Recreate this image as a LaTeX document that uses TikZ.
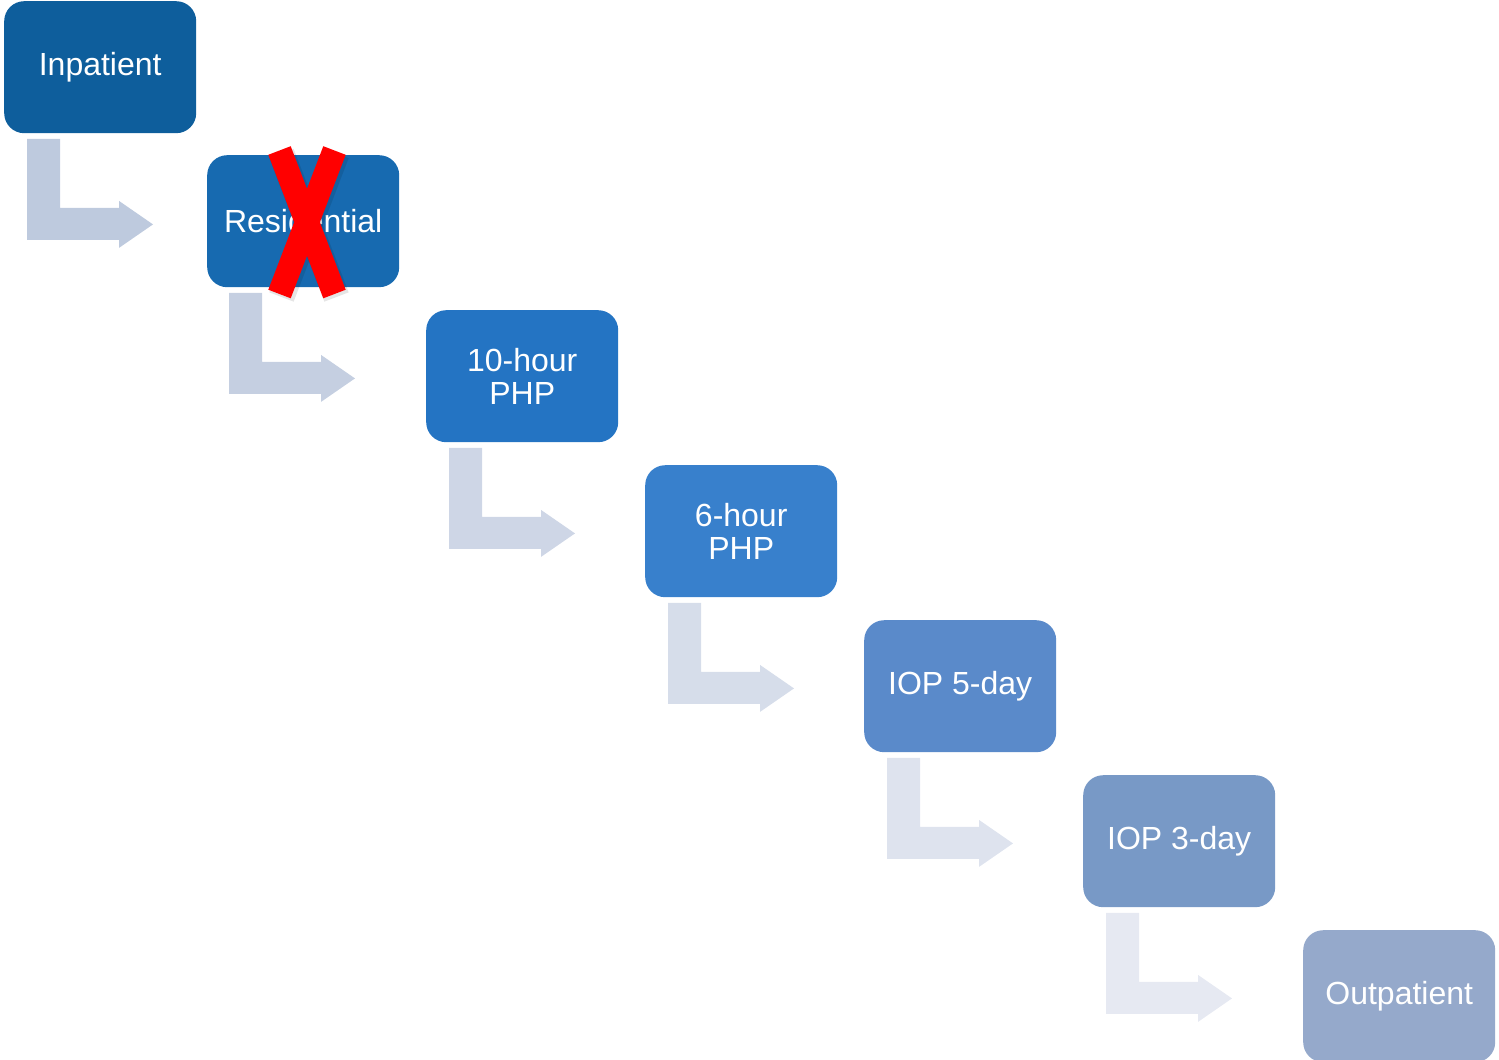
\documentclass[tikz,border=0pt]{standalone}
\usepackage{fontspec}
\setmainfont{Liberation Sans}
\usetikzlibrary{calc}

% stage fills, dark to light
\definecolor{stA}{HTML}{0E5E9C}
\definecolor{stB}{HTML}{176AB0}
\definecolor{stC}{HTML}{2474C3}
\definecolor{stD}{HTML}{3880CC}
\definecolor{stE}{HTML}{5A8ACA}
\definecolor{stF}{HTML}{7899C6}
\definecolor{stG}{HTML}{95A9CB}
% bent arrow fills
\definecolor{arA}{HTML}{BECADE}
\definecolor{arB}{HTML}{C5CFE1}
\definecolor{arC}{HTML}{CED6E6}
\definecolor{arD}{HTML}{D6DDEA}
\definecolor{arE}{HTML}{DEE3EE}
\definecolor{arF}{HTML}{E6E9F2}
\definecolor{crossred}{HTML}{FF0000}

\begin{document}
\begin{tikzpicture}[x=1pt,y=-1pt,
  stage/.style={rectangle, rounded corners=20pt, minimum width=192pt,
    minimum height=132pt, inner sep=0pt, anchor=north west, text=white,
    align=center, font=\fontsize{32}{33}\selectfont},
  bent/.pic={\fill[pic actions] (0,0) -- (33,0) -- (33,69) -- (92,69) -- (92,62)
    -- (126,85.5) -- (92,109) -- (92,101) -- (0,101) -- cycle;},
  crossbar/.style={line width=24pt, crossred}]

\useasboundingbox (0,0) rectangle (1499,1060);

% care levels
\node[stage, fill=stA] (n1) at (4,1)     {Inpatient};
\node[stage, fill=stB] (n2) at (207,155) {Residential};
\node[stage, fill=stC] (n3) at (426,310) {10-hour\\PHP};
\node[stage, fill=stD] (n4) at (645,465) {6-hour\\PHP};
\node[stage, fill=stE] (n5) at (864,620) {IOP 5-day};
\node[stage, fill=stF] (n6) at (1083,775) {IOP 3-day};
\node[stage, fill=stG] (n7) at (1303,930) {Outpatient};

% step-down arrows hanging under each level
\pic[fill=arA] at ($(n1.south west)+(23,5.5)$) {bent};
\pic[fill=arB] at ($(n2.south west)+(22,5.5)$) {bent};
\pic[fill=arC] at ($(n3.south west)+(23,5.5)$) {bent};
\pic[fill=arD] at ($(n4.south west)+(23,5.5)$) {bent};
\pic[fill=arE] at ($(n5.south west)+(23,5.5)$) {bent};
\pic[fill=arF] at ($(n6.south west)+(23,5.5)$) {bent};

% red cross over the residential level, with a faint drop shadow
\begin{scope}[shift={(2,3)}, opacity=0.1]
  \draw[line width=26pt, black] (279.5,150.5) -- (334.5,294);
  \draw[line width=26pt, black] (334.5,150.5) -- (279.5,294);
\end{scope}
\draw[crossbar] (279.5,150.5) -- (334.5,294);
\draw[crossbar] (334.5,150.5) -- (279.5,294);

\end{tikzpicture}
\end{document}
